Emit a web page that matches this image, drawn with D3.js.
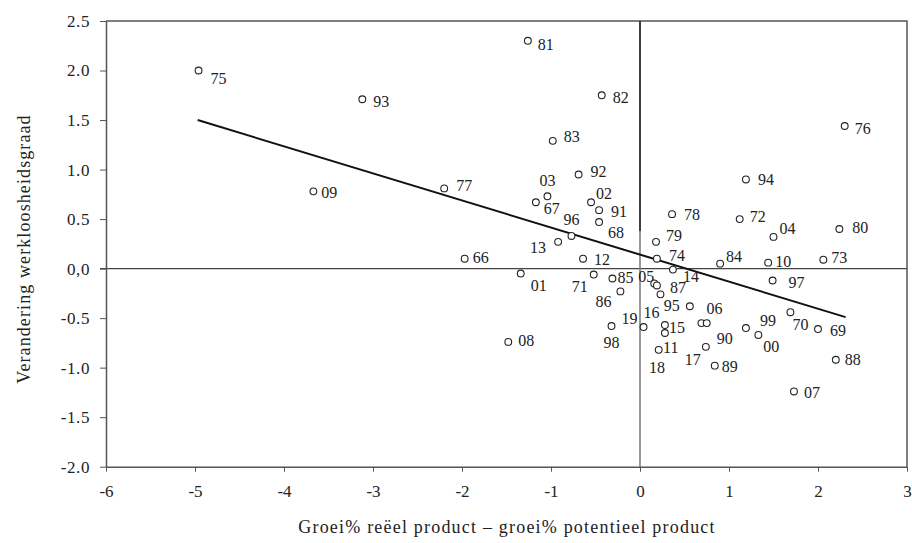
<!DOCTYPE html>
<html>
<head>
<meta charset="utf-8">
<script src="https://cdn.jsdelivr.net/npm/d3@7"></script>
<style>
  body { margin: 0; background: #fff; }
  svg text { font-family: "Liberation Serif", "DejaVu Serif", serif; fill: #222; }
  .axis path, .axis line { stroke: #555; }
</style>
</head>
<body>
<div id="chart"></div>
<script>
// data: year label, output gap (x), change in unemployment (y)
var years = ["75", "81", "93", "82", "76", "83", "92", "94", "09", "77",
  "03", "67", "02", "91", "68", "96", "13", "66", "12", "01",
  "71", "85", "86", "78", "72", "04", "80", "79", "74", "84",
  "10", "73", "14", "97", "05", "87", "16", "95", "98", "19",
  "15", "18", "06", "90", "11", "17", "89", "99", "00", "70",
  "69", "88", "07", "08"];
var gap = [-4.96, -1.26, -3.12, -0.43, 2.30, -0.98, -0.69, 1.19, -3.67, -2.20,
  -1.04, -1.17, -0.55, -0.46, -0.46, -0.77, -0.92, -1.97, -0.64, -1.34,
  -0.52, -0.31, -0.22, 0.36, 1.12, 1.50, 2.24, 0.18, 0.19, 0.90,
  1.44, 2.06, 0.37, 1.49, 0.16, 0.19, 0.23, 0.56, -0.32, 0.04,
  0.28, 0.28, 0.69, 0.75, 0.21, 0.74, 0.84, 1.19, 1.33, 1.69,
  2.00, 2.20, 1.73, -1.48];
var unemp = [2.00, 2.30, 1.71, 1.75, 1.44, 1.29, 0.95, 0.90, 0.78, 0.81,
  0.73, 0.67, 0.67, 0.59, 0.47, 0.33, 0.27, 0.10, 0.10, -0.05,
  -0.06, -0.10, -0.23, 0.55, 0.50, 0.32, 0.40, 0.27, 0.10, 0.05,
  0.06, 0.09, -0.01, -0.12, -0.15, -0.17, -0.26, -0.38, -0.58, -0.59,
  -0.57, -0.65, -0.55, -0.55, -0.82, -0.79, -0.98, -0.60, -0.67, -0.44,
  -0.61, -0.92, -1.24, -0.74];

// trend line end points
var trendX = [-4.97, 2.31];
var trendY = [1.50, -0.49];

var xTicks = [-6, -5, -4, -3, -2, -1, 0, 1, 2, 3];
var yTicks = [2.5, 2.0, 1.5, 1.0, 0.5, 0, -0.5, -1.0, -1.5, -2.0];
var yTickLabels = ["2.5", "2.0", "1.5", "1.0", "0.5", "0,0", "-0.5", "-1.0", "-1.5", "-2.0"];

// label placement (px, relative to the marker)
var labelOffsets = {
  "75": [20, 8], "81": [18, 4], "93": [19, 2], "82": [19, 2], "76": [18, 3],
  "83": [19, -4], "92": [20, -3], "94": [20, 0], "09": [16, 1], "77": [20, -3],
  "03": [0, -16], "67": [16, 6], "02": [13, -9], "91": [20, 1], "68": [17, 10],
  "96": [0, -16], "13": [-20, 6], "66": [16, -1], "12": [19, 1], "01": [18, 12],
  "71": [-14, 12], "85": [13, -1], "86": [-17, 10], "78": [20, 0], "72": [18, -3],
  "04": [14, -8], "80": [21, -1], "79": [18, -6], "74": [20, -3], "84": [14, -7],
  "10": [15, -1], "73": [16, -2], "14": [18, 7], "97": [24, 2], "05": [-8, -7],
  "87": [21, 2], "16": [-9, 18], "95": [-18, -1], "98": [0, 16], "19": [-14, -9],
  "15": [12, 2], "18": [-8, 35], "06": [13, -15], "90": [18, 15], "11": [12, -2],
  "17": [-13, 13], "89": [15, 1], "99": [22, -8], "00": [13, 12], "70": [10, 12],
  "69": [20, 1], "88": [17, 0], "07": [18, 1], "08": [18, -1]
};

var width = 912, height = 543;
var plotLeft = 106, plotRight = 907, plotTop = 21, plotBottom = 466.7;

var svg = d3.select("#chart").append("svg")
  .attr("width", width)
  .attr("height", height);

var xScale = d3.scaleLinear().domain([-6, 3]).range([plotLeft, plotRight]);
var yScale = d3.scaleLinear().domain([-2, 2.5]).range([plotBottom, plotTop]);

// frame (top + right)
svg.append("path")
  .attr("d", "M" + plotLeft + "," + plotTop + "H" + plotRight + "V" + plotBottom)
  .attr("fill", "none")
  .attr("stroke", "#555")
  .attr("stroke-width", 1.5);

// zero lines
svg.append("line")
  .attr("x1", xScale(-6) - 6).attr("x2", xScale(3))
  .attr("y1", yScale(0)).attr("y2", yScale(0))
  .attr("stroke", "#444").attr("stroke-width", 1.3);
svg.append("line")
  .attr("x1", xScale(0)).attr("x2", xScale(0))
  .attr("y1", yScale(2.5)).attr("y2", yScale(-2))
  .attr("stroke", "#777").attr("stroke-width", 1.5);
svg.append("line")
  .attr("x1", xScale(0)).attr("x2", xScale(0))
  .attr("y1", yScale(2.5)).attr("y2", yScale(0.38))
  .attr("stroke", "#222").attr("stroke-width", 1.5);

var xAxis = d3.axisBottom(xScale)
  .tickValues(xTicks)
  .tickFormat(function(d) { return d < 0 ? "-" + Math.abs(d) : String(d); })
  .tickSizeInner(5)
  .tickSizeOuter(0)
  .tickPadding(13);

svg.append("g")
  .attr("class", "axis")
  .attr("transform", "translate(0," + plotBottom + ")")
  .call(xAxis)
  .call(function(g) {
    g.select(".domain").attr("stroke-width", 1.5);
    g.selectAll("text").attr("font-size", 17).attr("fill", "#222");
  });

var yAxis = d3.axisLeft(yScale)
  .tickValues(yTicks)
  .tickFormat(function(d, i) { return yTickLabels[i]; })
  .tickSizeInner(6)
  .tickSizeOuter(0)
  .tickPadding(10);

svg.append("g")
  .attr("class", "axis")
  .attr("transform", "translate(" + plotLeft + ",0)")
  .call(yAxis)
  .call(function(g) {
    g.select(".domain").attr("stroke-width", 1.5);
    g.selectAll("text").attr("font-size", 17).attr("letter-spacing", 0.6).attr("fill", "#222");
  });

// trend line
svg.append("line")
  .attr("x1", xScale(trendX[0])).attr("y1", yScale(trendY[0]))
  .attr("x2", xScale(trendX[1])).attr("y2", yScale(trendY[1]))
  .attr("stroke", "#111")
  .attr("stroke-width", 2);

var points = years.map(function(y, i) {
  return { year: y, x: gap[i], y: unemp[i] };
});

svg.selectAll("circle.pt")
  .data(points)
  .enter()
  .append("circle")
  .attr("class", "pt")
  .attr("cx", function(d) { return xScale(d.x); })
  .attr("cy", function(d) { return yScale(d.y); })
  .attr("r", 3.4)
  .attr("fill", "#fff")
  .attr("stroke", "#222")
  .attr("stroke-width", 1.1);

svg.selectAll("text.lbl")
  .data(points)
  .enter()
  .append("text")
  .attr("class", "lbl")
  .attr("x", function(d) { return xScale(d.x) + labelOffsets[d.year][0]; })
  .attr("y", function(d) { return yScale(d.y) + labelOffsets[d.year][1]; })
  .attr("text-anchor", "middle")
  .attr("dominant-baseline", "central")
  .attr("font-size", 16)
  .text(function(d) { return d.year; });

// axis titles
svg.append("text")
  .attr("x", 507)
  .attr("y", 533)
  .attr("text-anchor", "middle")
  .attr("font-size", 18)
  .attr("letter-spacing", 1.2)
  .text("Groei% reëel product \u2013 groei% potentieel product");

svg.append("text")
  .attr("transform", "translate(30,249) rotate(-90)")
  .attr("text-anchor", "middle")
  .attr("font-size", 18)
  .attr("letter-spacing", 1.1)
  .text("Verandering werkloosheidsgraad");
</script>
</body>
</html>
